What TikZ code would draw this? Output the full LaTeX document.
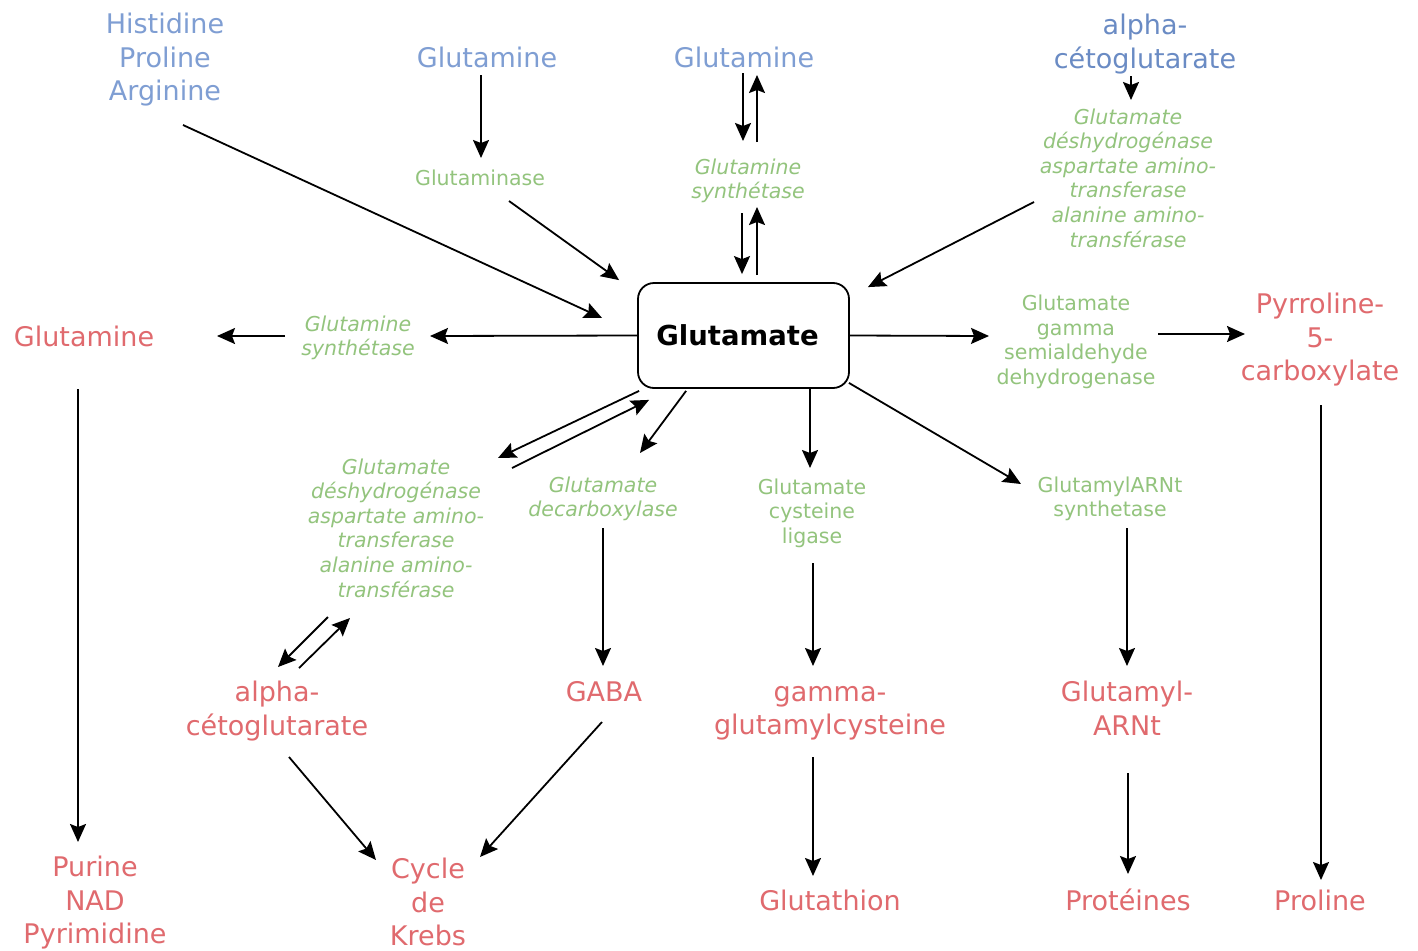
\documentclass[tikz,border=0pt]{standalone}
\usepackage{fontspec}
\setmainfont{DejaVu Sans}
\usetikzlibrary{arrows.meta}
\definecolor{cblue}{HTML}{7F9ED3}
\definecolor{cdblue}{HTML}{6A8BC4}
\definecolor{cred}{HTML}{E06A6E}
\definecolor{cgreen}{HTML}{93C47D}
\begin{document}
\begin{tikzpicture}[x=1pt,y=-1pt,
  big/.style={font=\fontsize{27}{33.5}\selectfont, align=center, inner sep=0pt},
  sub/.style={big, text=cblue},
  prod/.style={big, text=cred},
  enz/.style={font=\fontsize{20.5}{24.6}\selectfont, align=center, inner sep=0pt, text=cgreen},
  enzi/.style={enz, font=\fontsize{20.5}{24.6}\selectfont\itshape},
  arr/.style={-{Stealth[length=18pt,width=16pt,inset=3pt]}, line width=1.8pt},
  centerbox/.style={draw, line width=1.8pt, rounded corners=16pt, minimum width=211pt, minimum height=105pt, font=\fontsize{27.5}{30}\selectfont\bfseries}]
\useasboundingbox (0,0) rectangle (1418,950);
\fill[white] (0,0) rectangle (1418,950);

% central node
\node[centerbox] (glu) at (743.5,335.5) {\hspace*{-12pt}Glutamate};

% substrates (blue)
\node[sub] (hist) at (165,60) {Histidine\\Proline\\Arginine};
\node[sub] (gln1) at (487,57) {Glutamine};
\node[sub] (gln2) at (744,57) {Glutamine};
\node[big, text=cdblue] (akg1) at (1145,44) {alpha-\\cétoglutarate};

% enzymes (green)
\node[enz] (gase) at (480,178) {Glutaminase};
\node[enzi] (syn1) at (748,181) {Glutamine\\synthétase};
\node[enzi] (enz1) at (1128,178) {Glutamate\\déshydrogénase\\aspartate amino-\\transferase\\alanine amino-\\transférase};
\node[enzi] (syn2) at (358,338) {Glutamine\\synthétase};
\node[enz] (gsd) at (1076,342) {Glutamate\\gamma\\semialdehyde\\dehydrogenase};
\node[enzi] (enz2) at (396,528) {Glutamate\\déshydrogénase\\aspartate amino-\\transferase\\alanine amino-\\transférase};
\node[enzi] (decarb) at (603,499) {Glutamate\\decarboxylase};
\node[enz] (cysl) at (812,513) {Glutamate\\cysteine\\ligase};
\node[enz] (arnts) at (1110,499) {GlutamylARNt\\synthetase};

% products (red)
\node[prod] (gln3) at (84,336) {Glutamine};
\node[prod] (p5c) at (1320,340) {Pyrroline-\\5-\\carboxylate};
\node[prod] (akg2) at (277,711) {alpha-\\cétoglutarate};
\node[prod] (gaba) at (604,692) {GABA};
\node[prod] (gamma) at (830,713) {gamma-\\glutamylcysteine};
\node[prod] (garnt) at (1127,708) {Glutamyl-\\ARNt};
\node[prod] (pur) at (95,903) {Purine\\NAD\\Pyrimidine};
\node[prod] (krebs) at (428,902) {Cycle\\de\\Krebs};
\node[prod] (gsh) at (830,900) {Glutathion};
\node[prod] (prot) at (1128,900) {Protéines};
\node[prod] (pro) at (1320,900) {Proline};

% connectors into Glutamate
\draw[arr] ([shift={(18,65)}]hist.center) -- ([shift={(-35,-17.5)}]glu.west);
\draw[arr] ([shift={(-6,18)}]gln1.center) -- ([shift={(1,-20)}]gase.center);
\draw[arr] ([shift={(29,23)}]gase.center) -- ([shift={(-18,-2)}]glu.north west);
\draw[arr] ([shift={(-1,16)}]gln2.center) -- ([shift={(-5,-40)}]syn1.center);
\draw[arr] ([shift={(9,-39)}]syn1.center) -- ([shift={(13,18)}]gln2.center);
\draw[arr] ([shift={(-6,32)}]syn1.center) -- ([shift={(-1.5,-8)}]glu.north);
\draw[arr] ([shift={(13.5,-7)}]glu.north) -- ([shift={(9,26)}]syn1.center);
\draw[arr] ([shift={(-14,32)}]akg1.center) -- ([shift={(3,-78)}]enz1.center);
\draw[arr] ([shift={(-94,24)}]enz1.center) -- ([shift={(18,5)}]glu.north east);

% out of Glutamate
\draw[arr] (glu.west) -- ([shift={(72,-2)}]syn2.center);
\draw[arr] ([shift={(-73,-2)}]syn2.center) -- ([shift={(133,0)}]gln3.center);
\draw[arr] (glu.east) -- ([shift={(-87,-6)}]gsd.center);
\draw[arr] ([shift={(82,-8)}]gsd.center) -- ([shift={(-75,-6)}]p5c.center);
\draw[arr] ([shift={(2,2)}]glu.south west) -- ([shift={(102,-70)}]enz2.center);
\draw[arr] ([shift={(116,-60)}]enz2.center) -- ([shift={(12,11)}]glu.south west);
\draw[arr] ([shift={(49,2)}]glu.south west) -- ([shift={(37,-46)}]decarb.center);
\draw[arr] ([shift={(66.5,0)}]glu.south) -- ([shift={(-2,-45)}]cysl.center);
\draw[arr] ([shift={(-1,-6)}]glu.south east) -- ([shift={(-89,-15)}]arnts.center);

% lower connectors
\draw[arr] ([shift={(-68,89)}]enz2.center) -- ([shift={(1,-44)}]akg2.center);
\draw[arr] ([shift={(22,-43)}]akg2.center) -- ([shift={(-46,90)}]enz2.center);
\draw[arr] ([shift={(12,46)}]akg2.center) -- ([shift={(-52,-42)}]krebs.center);
\draw[arr] ([shift={(-2,30)}]gaba.center) -- ([shift={(52,-45)}]krebs.center);
\draw[arr] ([shift={(0,29)}]decarb.center) -- ([shift={(-1,-26)}]gaba.center);
\draw[arr] ([shift={(1,50)}]cysl.center) -- ([shift={(-17,-47)}]gamma.center);
\draw[arr] ([shift={(-17,44)}]gamma.center) -- ([shift={(-17,-24)}]gsh.center);
\draw[arr] ([shift={(17,29)}]arnts.center) -- ([shift={(0,-42)}]garnt.center);
\draw[arr] ([shift={(1,65)}]garnt.center) -- ([shift={(0,-26)}]prot.center);
\draw[arr] ([shift={(1,65)}]p5c.center) -- ([shift={(1,-20)}]pro.center);
\draw[arr] ([shift={(-6,53)}]gln3.center) -- ([shift={(-17,-61)}]pur.center);
\end{tikzpicture}
\end{document}
